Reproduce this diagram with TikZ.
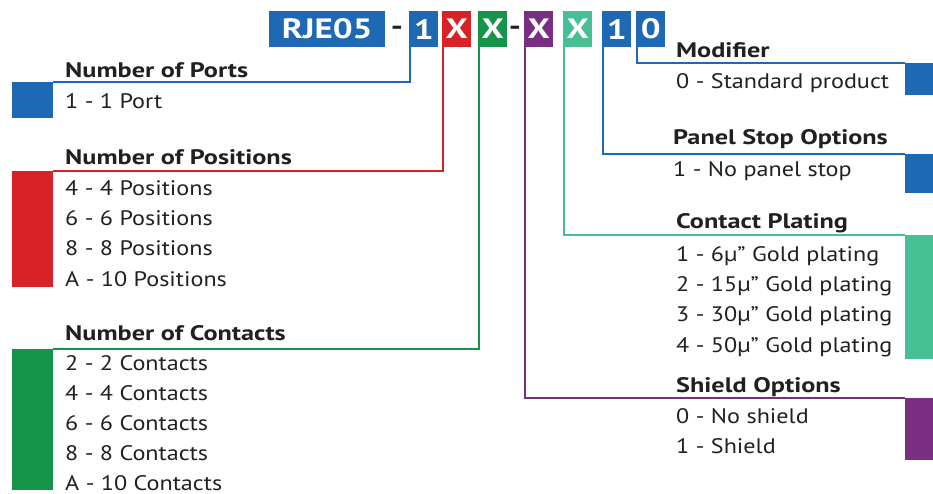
\documentclass[tikz,border=0pt]{standalone}
\usepackage{fontspec}
\setmainfont{PT Sans}[FakeStretch=1.15, BoldFeatures={FakeStretch=1.25}]
\usetikzlibrary{positioning}

\definecolor{codeblue}{HTML}{1F69B4}
\definecolor{codered}{HTML}{D92128}
\definecolor{codegreen}{HTML}{15944A}
\definecolor{codepurple}{HTML}{7A2E82}
\definecolor{codeteal}{HTML}{45BF93}
\definecolor{ink}{HTML}{231F20}

\tikzset{
  code/.style={fill=#1, text=white, anchor=north west, inner sep=0pt,
    minimum width=29pt, minimum height=36pt,
    font=\bfseries\fontsize{28}{28}\selectfont},
  blk/.style={fill=#1, anchor=north west, inner sep=0pt},
  link/.style={draw=#1, line width=2pt},
  hdr/.style={anchor=base west, inner sep=0pt, text=ink,
    font=\bfseries\fontsize{21}{21}\selectfont},
  item/.style={anchor=base west, inner sep=0pt, text=ink,
    font=\fontsize{21}{21}\selectfont},
}

\begin{document}
\begin{tikzpicture}[x=1pt,y=-1pt]
\useasboundingbox (0,0) rectangle (933,494);

% part number
\node[code=codeblue, minimum width=116pt] (rje) at (269,11) {RJE05};
\node[text=ink, font=\bfseries\fontsize{27}{27}\selectfont] (dash1) at (397,31) {-};
\node[code=codeblue] (ports) at (409,11) {1};
\node[code=codered] (posn) at (442,11) {X};
\node[code=codegreen] (cont) at (478,11) {X};
\node[text=ink, font=\bfseries\fontsize{27}{27}\selectfont] (dash2) at (515,31) {-};
\node[code=codepurple] (shld) at (524,11) {X};
\node[code=codeteal] (plat) at (563,11) {X};
\node[code=codeblue] (stop) at (602,11) {1};
\node[code=codeblue] (modf) at (636,11) {0};

% colour blocks, left
\node[blk=codeblue, minimum width=41pt, minimum height=36pt] (portsblk) at (12,82) {};
\node[blk=codered, minimum width=41pt, minimum height=116pt] (posnblk) at (12,171) {};
\node[blk=codegreen, minimum width=41pt, minimum height=141pt] (contblk) at (12,349) {};
% colour blocks, right
\node[blk=codeblue, minimum width=28pt, minimum height=32pt] (modfblk) at (905,63) {};
\node[blk=codeblue, minimum width=28pt, minimum height=39pt] (stopblk) at (905,154) {};
\node[blk=codeteal, minimum width=28pt, minimum height=124pt] (platblk) at (905,235) {};
\node[blk=codepurple, minimum width=28pt, minimum height=62pt] (shldblk) at (905,398) {};

% leader lines
\draw[link=codeblue] ([xshift=1pt]ports.south west) |- (portsblk.north east);
\draw[link=codered] ([xshift=1pt]posn.south west) |- (posnblk.north east);
\draw[link=codegreen] ([xshift=1pt]cont.south west) |- (contblk.north east);
\draw[link=codepurple] ([xshift=1pt]shld.south west) |- (shldblk.north west);
\draw[link=codeteal] ([xshift=1pt]plat.south west) |- (platblk.north west);
\draw[link=codeblue] ([xshift=1pt]stop.south west) |- (stopblk.north west);
\draw[link=codeblue] ([xshift=1pt]modf.south west) |- (modfblk.north west);

% left texts
\node[hdr] (portshdr) at (65,78) {Number of Ports};
\node[item] (ports1) at (65,109) {1 - 1 Port};

\node[hdr] (posnhdr) at (65,165) {Number of Positions};
\foreach \t [count=\i] in {4 - 4 Positions, 6 - 6 Positions, 8 - 8 Positions, A - 10 Positions}
  \node[item] (posn\i) at (65,{165+30.3*\i}) {\t};

\node[hdr] (conthdr) at (65,340) {Number of Contacts};
\foreach \t [count=\i] in {2 - 2 Contacts, 4 - 4 Contacts, 6 - 6 Contacts, 8 - 8 Contacts, A - 10 Contacts}
  \node[item] (cont\i) at (65,{341+29.8*\i}) {\t};

% right texts
\node[hdr] (modfhdr) at (676,58) {Modifier};
\node[item] (modf1) at (676,89) {0 - Standard product};

\node[hdr] (stophdr) at (673,145) {Panel Stop Options};
\node[item] (stop1) at (673,177) {1 - No panel stop};

\node[hdr] (plathdr) at (676,229) {Contact Plating};
\foreach \t [count=\i] in {1 - 6µ” Gold plating, 2 - 15µ” Gold plating, 3 - 30µ” Gold plating, 4 - 50µ” Gold plating}
  \node[item] (plat\i) at (676,{231+30.3*\i}) {\t};

\node[hdr] (shldhdr) at (676,392) {Shield Options};
\node[item] (shld1) at (676,423) {0 - No shield};
\node[item] (shld2) at (676,453) {1 - Shield};
\end{tikzpicture}
\end{document}
